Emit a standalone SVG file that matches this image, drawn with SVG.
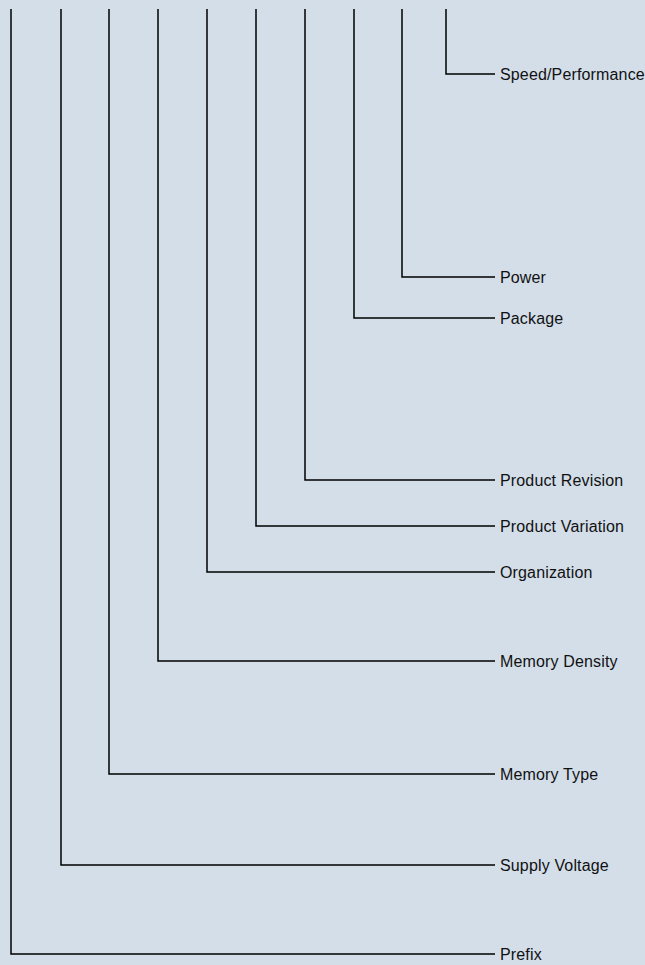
<svg xmlns="http://www.w3.org/2000/svg" width="645" height="965" viewBox="0 0 645 965">
<style>
.c{fill:none;stroke:#000;stroke-width:1.5;stroke-linecap:butt}
.t{font-family:"Liberation Sans",Arial,sans-serif;font-size:16px;letter-spacing:0.15px;fill:#111}
</style>
<rect width="645" height="965" fill="#d3dee9"/>
<g id="connectors">
<polyline class="c" points="446,9 446,74 495,74"/>
<polyline class="c" points="402,9 402,277 495,277"/>
<polyline class="c" points="354,9 354,318 495,318"/>
<polyline class="c" points="305,9 305,480 495,480"/>
<polyline class="c" points="256,9 256,526 495,526"/>
<polyline class="c" points="207,9 207,572 495,572"/>
<polyline class="c" points="158,9 158,661 495,661"/>
<polyline class="c" points="109,9 109,774 495,774"/>
<polyline class="c" points="61,9 61,865 495,865"/>
<polyline class="c" points="11,9 11,954 495,954"/>
</g>
<g id="speed"><text class="t" x="500" y="80">Speed/Performance</text></g>
<g id="power"><text class="t" x="500" y="283">Power</text></g>
<g id="package"><text class="t" x="500" y="324">Package</text></g>
<g id="revision"><text class="t" x="500" y="486">Product Revision</text></g>
<g id="variation"><text class="t" x="500" y="532">Product Variation</text></g>
<g id="organization"><text class="t" x="500" y="578">Organization</text></g>
<g id="density"><text class="t" x="500" y="667">Memory Density</text></g>
<g id="type"><text class="t" x="500" y="780">Memory Type</text></g>
<g id="voltage"><text class="t" x="500" y="871">Supply Voltage</text></g>
<g id="prefix"><text class="t" x="500" y="960">Prefix</text></g>
</svg>
